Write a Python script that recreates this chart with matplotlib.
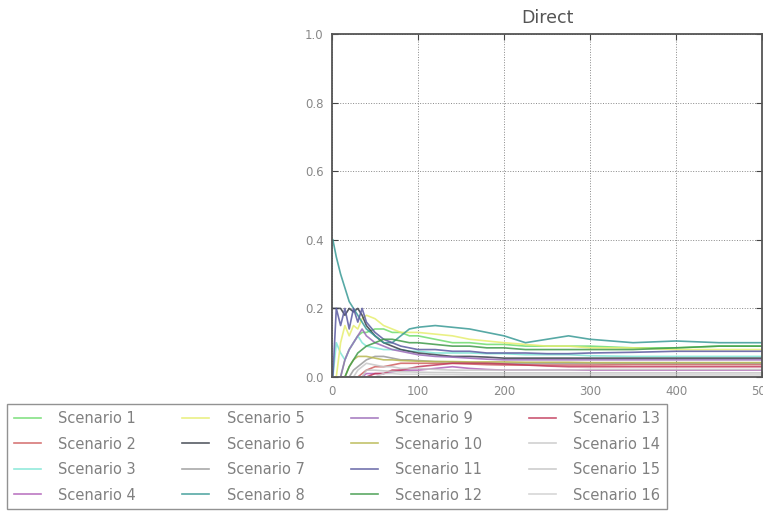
import matplotlib
matplotlib.use("Agg")
import matplotlib.pyplot as plt

# sample points along the x axis (iterations)
xs = [1, 5, 10, 15, 20, 25, 30, 35, 40, 50, 60, 70, 80, 90, 100,
      120, 140, 160, 180, 200, 225, 250, 275, 300, 350, 400, 450, 500]

s1 = [0.0, 0.0, 0.0, 0.05, 0.08, 0.10, 0.12, 0.13, 0.13, 0.14, 0.14, 0.13, 0.13, 0.12,
      0.12, 0.11, 0.10, 0.10, 0.095, 0.095, 0.09, 0.09, 0.09, 0.09, 0.085, 0.085, 0.09, 0.09]
s2 = [0.0, 0.0, 0.0, 0.0, 0.0, 0.0, 0.0, 0.01, 0.02, 0.03, 0.03, 0.035, 0.04, 0.04,
      0.04, 0.04, 0.04, 0.038, 0.036, 0.035, 0.035, 0.035, 0.035, 0.035, 0.036, 0.036, 0.036, 0.036]
s3 = [0.0, 0.10, 0.07, 0.05, 0.08, 0.10, 0.12, 0.10, 0.09, 0.085, 0.08, 0.08, 0.08, 0.075,
      0.075, 0.07, 0.07, 0.07, 0.068, 0.068, 0.065, 0.065, 0.065, 0.062, 0.06, 0.06, 0.06, 0.06]
s4 = [0.0, 0.0, 0.0, 0.0, 0.0, 0.0, 0.0, 0.0, 0.01, 0.01, 0.01, 0.015, 0.02, 0.02,
      0.02, 0.025, 0.03, 0.025, 0.022, 0.02, 0.02, 0.02, 0.02, 0.02, 0.02, 0.02, 0.02, 0.02]
s5 = [0.0, 0.0, 0.10, 0.15, 0.12, 0.15, 0.14, 0.17, 0.18, 0.17, 0.15, 0.14, 0.13, 0.13,
      0.13, 0.125, 0.12, 0.11, 0.105, 0.10, 0.095, 0.09, 0.09, 0.085, 0.085, 0.08, 0.08, 0.08]
s6 = [0.20, 0.20, 0.20, 0.18, 0.20, 0.19, 0.20, 0.18, 0.15, 0.12, 0.10, 0.09, 0.08, 0.075,
      0.07, 0.065, 0.06, 0.06, 0.058, 0.055, 0.055, 0.055, 0.055, 0.055, 0.055, 0.055, 0.055, 0.055]
s7 = [0.0, 0.0, 0.0, 0.0, 0.0, 0.02, 0.03, 0.04, 0.05, 0.06, 0.06, 0.055, 0.05, 0.05,
      0.048, 0.045, 0.044, 0.042, 0.04, 0.04, 0.04, 0.04, 0.04, 0.04, 0.04, 0.04, 0.04, 0.04]
s8 = [0.40, 0.35, 0.30, 0.26, 0.22, 0.20, 0.18, 0.16, 0.14, 0.12, 0.10, 0.10, 0.12, 0.14,
      0.145, 0.15, 0.145, 0.14, 0.13, 0.12, 0.10, 0.11, 0.12, 0.11, 0.10, 0.105, 0.10, 0.10]
s9 = [0.0, 0.0, 0.0, 0.05, 0.08, 0.10, 0.12, 0.14, 0.12, 0.10, 0.09, 0.08, 0.075, 0.07,
      0.065, 0.06, 0.058, 0.055, 0.052, 0.05, 0.05, 0.05, 0.05, 0.05, 0.05, 0.05, 0.05, 0.05]
s10 = [0.0, 0.0, 0.0, 0.0, 0.03, 0.05, 0.06, 0.06, 0.06, 0.055, 0.05, 0.05, 0.048, 0.047,
       0.046, 0.045, 0.045, 0.044, 0.044, 0.044, 0.043, 0.043, 0.043, 0.042, 0.042, 0.042, 0.042, 0.042]
s11 = [0.0, 0.20, 0.15, 0.20, 0.14, 0.20, 0.16, 0.20, 0.16, 0.13, 0.11, 0.10, 0.09, 0.085,
       0.08, 0.08, 0.075, 0.075, 0.07, 0.07, 0.07, 0.068, 0.068, 0.07, 0.072, 0.075, 0.075, 0.075]
s12 = [0.0, 0.0, 0.0, 0.0, 0.03, 0.05, 0.07, 0.08, 0.09, 0.10, 0.11, 0.11, 0.105, 0.10,
       0.10, 0.095, 0.09, 0.09, 0.085, 0.085, 0.08, 0.08, 0.08, 0.08, 0.08, 0.085, 0.09, 0.09]
s13 = [0.0, 0.0, 0.0, 0.0, 0.0, 0.0, 0.0, 0.0, 0.0, 0.01, 0.01, 0.02, 0.02, 0.025,
       0.03, 0.035, 0.04, 0.04, 0.04, 0.038, 0.035, 0.032, 0.03, 0.03, 0.03, 0.03, 0.03, 0.03]
s14 = [0.0, 0.0, 0.0, 0.0, 0.0, 0.0, 0.02, 0.03, 0.04, 0.035, 0.03, 0.03, 0.025, 0.025,
       0.025, 0.022, 0.02, 0.02, 0.02, 0.02, 0.02, 0.02, 0.02, 0.022, 0.022, 0.022, 0.022, 0.022]
s15 = [0.0, 0.0, 0.0, 0.0, 0.0, 0.0, 0.0, 0.0, 0.02, 0.02, 0.018, 0.016, 0.015, 0.015,
       0.014, 0.013, 0.013, 0.012, 0.012, 0.012, 0.012, 0.012, 0.012, 0.012, 0.012, 0.012, 0.012, 0.012]
s16 = [0.0, 0.0, 0.0, 0.0, 0.0, 0.0, 0.0, 0.0, 0.0, 0.0, 0.01, 0.01, 0.008, 0.008,
       0.008, 0.007, 0.007, 0.006, 0.006, 0.006, 0.006, 0.006, 0.006, 0.006, 0.006, 0.006, 0.006, 0.006]

series = [s1, s2, s3, s4, s5, s6, s7, s8, s9, s10, s11, s12, s13, s14, s15, s16]
labels = ["Scenario %d" % (i + 1) for i in range(16)]
colors = ["#6fdc6f", "#d06060", "#7fe6d6", "#b060b8", "#e6ee70", "#3a3f4a",
          "#9a9a9a", "#3a9a96", "#9a6ab8", "#b8b850", "#5a5aa0", "#3f9a4a",
          "#c23a5a", "#c8c8c8", "#c4c4c4", "#cfcfcf"]

fig = plt.figure(figsize=(7.63, 5.13), dpi=100)
ax = fig.add_axes([332 / 763, 1 - 377 / 513, 430 / 763, 343 / 513])

for ys, lab, c in zip(series, labels, colors):
    ax.plot(xs, ys, color=c, lw=1.2, alpha=0.85, label=lab)

ax.set_xlim(0, 500)
ax.set_ylim(0, 1.0)
ax.set_xticks([0, 100, 200, 300, 400, 500])
ax.set_yticks([0.0, 0.2, 0.4, 0.6, 0.8, 1.0])
ax.set_yticklabels(["0.0", "0.2", "0.4", "0.6", "0.8", "1.0"])
ax.grid(True, linestyle=":", color="#888888", lw=0.7)
ax.tick_params(direction="in", top=True, right=True, labelsize=8.5, labelcolor="#888888",
               color="#444444", length=4, pad=6)
for sp in ax.spines.values():
    sp.set_color("#555555")
    sp.set_linewidth(1.3)
ax.set_title("Direct", fontsize=12.5, color="#555555", pad=8)

fig.legend(loc="upper left", bbox_to_anchor=(7 / 763, 1 - 405 / 513, 660 / 763, 0.001),
           mode="expand", ncol=4, fontsize=10.5, frameon=True, fancybox=False,
           edgecolor="#777777", labelspacing=0.72, handlelength=1.85,
           handletextpad=1.2, borderpad=0.45, borderaxespad=0, labelcolor="#808080")

fig.savefig("out.png", dpi=100)
